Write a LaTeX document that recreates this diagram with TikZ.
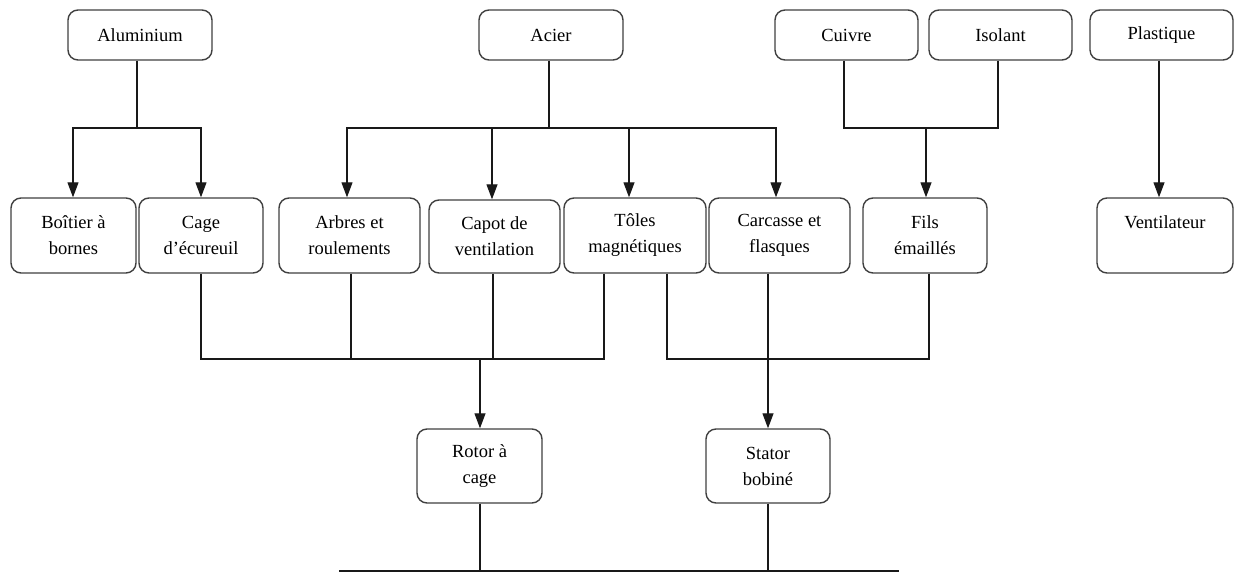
\documentclass[tikz,border=0pt]{standalone}
\usepackage{fontspec}
\setmainfont{Liberation Serif}
\usetikzlibrary{arrows.meta}
\tikzset{
  box/.style={draw=black!75, line width=1.4pt, rounded corners=10pt, fill=white,
    inner sep=0pt, align=center, font=\fontsize{18.5}{26}\selectfont},
  conn/.style={draw=black!90, line width=1.2pt},
  arr/.style={conn, -{Triangle[length=15pt,width=11pt]}}
}
\begin{document}
\begin{tikzpicture}[x=1pt,y=-1pt]
\useasboundingbox (0,0) rectangle (1234,572);
% top row
\node[box, minimum width=144pt, minimum height=50pt] (alu) at (140,35) {Aluminium};
\node[box, minimum width=144pt, minimum height=50pt] (acier) at (551,35) {Acier};
\node[box, minimum width=143pt, minimum height=50pt] (cuivre) at (846.5,35) {Cuivre};
\node[box, minimum width=143pt, minimum height=50pt] (isolant) at (1000.5,35) {Isolant};
\node[box, minimum width=143pt, minimum height=50pt] (plast) at (1161.5,35) {Plastique};
% middle row
\node[box, minimum width=125pt, minimum height=75pt] (boitier) at (73.5,235.5) {Boîtier à\\bornes};
\node[box, minimum width=124pt, minimum height=75pt] (cage) at (201,235.5) {Cage\\d’écureuil};
\node[box, minimum width=141pt, minimum height=75pt] (arbres) at (349.5,235.5) {Arbres et\\roulements};
\node[box, minimum width=131pt, minimum height=73pt] (capot) at (494.5,236.5) {Capot de\\ventilation};
\node[box, minimum width=142pt, minimum height=75pt] (toles) at (635,235.5) {Tôles\\magnétiques};
\node[box, minimum width=141pt, minimum height=75pt] (carcasse) at (779.5,235.5) {Carcasse et\\flasques};
\node[box, minimum width=124pt, minimum height=75pt] (fils) at (925,235.5) {Fils\\émaillés};
\node[box, minimum width=136pt, minimum height=75pt] (ventil) at (1165,235.5) {Ventilateur\\\mbox{}};
% bottom row
\node[box, minimum width=125pt, minimum height=74pt] (rotor) at (479.5,466) {Rotor à\\cage};
\node[box, minimum width=124pt, minimum height=74pt] (stator) at (768,466) {Stator\\bobiné};
% junctions
\coordinate (jA) at (137,128);
\coordinate (jB) at (549,128);
\coordinate (jC) at (926,128);
\coordinate (busR) at (480,359);
\coordinate (busS) at (768,359);
\coordinate (bl) at (339,571);
\coordinate (br) at (899,571);
% Aluminium
\draw[conn] ([xshift=-3pt]alu.south) -- (jA);
\draw[arr] (jA) -| ([xshift=-0.5pt]boitier.north);
\draw[arr] (jA) -| (cage.north);
% Acier
\draw[conn] (acier.south -| jB) -- (jB);
\draw[arr] (jB) -| ([xshift=-2.5pt]arbres.north);
\draw[arr] (jB) -| ([xshift=-2.5pt]capot.north);
\draw[arr] (jB) -| ([xshift=-6pt]toles.north);
\draw[arr] (jB) -| ([xshift=-3.5pt]carcasse.north);
% Cuivre + Isolant
\draw[conn] ([xshift=-2.5pt]cuivre.south) |- (jC);
\draw[conn] ([xshift=-2.5pt]isolant.south) |- (jC);
\draw[arr] (jC) -- (fils.north -| jC);
% Plastique
\draw[arr] ([xshift=-2.5pt]plast.south) -- ([xshift=-6pt]ventil.north);
% Rotor bus
\draw[conn] (cage.south) |- (busR);
\draw[conn] ([xshift=-31pt]toles.south) |- (busR);
\draw[conn] ([xshift=1.5pt]arbres.south) -- ([xshift=1.5pt]arbres.south |- busR);
\draw[conn] ([xshift=-1.5pt]capot.south) -- ([xshift=-1.5pt]capot.south |- busR);
\draw[arr] (busR) -- (rotor.north -| busR);
% Stator bus
\draw[conn] ([xshift=32pt]toles.south) |- (busS);
\draw[conn] ([xshift=4pt]fils.south) |- (busS);
\draw[conn] (carcasse.south -| busS) -- (busS);
\draw[arr] (busS) -- (stator.north);
% bottom
\draw[conn] (bl) -- (br);
\draw[conn] (rotor.south -| busR) -- (bl -| busR);
\draw[conn] (stator.south) -- (stator.south |- bl);
\end{tikzpicture}
\end{document}
